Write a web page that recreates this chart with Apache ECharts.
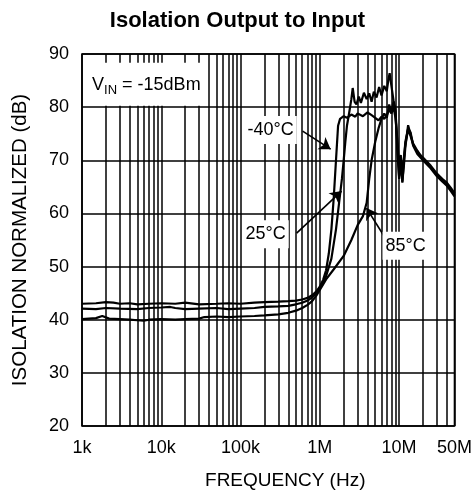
<!DOCTYPE html>
<html>
<head>
<meta charset="utf-8">
<script src="https://cdn.jsdelivr.net/npm/echarts@6/dist/echarts.min.js"></script>
<style>
html,body{margin:0;padding:0;background:#fff;}
#chart{width:475px;height:504px;}
</style>
</head>
<body>
<div id="chart"></div>
<script>
// ---- data ----
var xTickValues = [1e3, 1e4, 1e5, 1e6, 1e7, 5e7];
var xTickLabels = ['1k', '10k', '100k', '1M', '10M', '50M'];
var yTicks = [20, 30, 40, 50, 60, 70, 80, 90];

var freqM40 = [1e3,1.5e3,2e3,2.5e3,3e3,4e3,5e3,7e3,1e4,1.5e4,2e4,3e4,5e4,7e4,1e5,1.5e5,2e5,3e5,4e5,5e5,6e5,7e5,8e5,9e5,1e6,1.1e6,1.2e6,1.3e6,1.4e6,1.5e6,1.6e6,1.7e6,1.8e6,2e6,2.2e6,2.5e6,2.8e6,3e6,3.5e6,4e6,4.5e6,5e6,5.5e6,6e6,6.5e6,7e6,7.5e6,8e6,8.5e6,9e6,9.5e6,1e7,1.05e7,1.1e7,1.15e7,1.2e7,1.3e7,1.4e7,1.5e7,1.7e7,2e7,2.5e7,3e7,3.5e7,4e7,4.5e7,5e7];
var dbM40 = [43.0,43.1,43.3,43.2,43.0,43.1,42.9,43.0,43.1,43.0,43.2,42.9,43.0,43.1,43.0,43.2,43.3,43.4,43.5,43.6,43.8,44.1,44.6,45.3,46.2,47.5,49.3,52.5,57.0,63.0,70.0,76.5,77.8,78.3,78.0,78.6,78.2,78.8,78.3,79.0,78.5,78.0,77.5,78.2,77.8,78.5,79.5,78.8,80.0,78.0,74.0,68.5,71.0,67.0,70.5,73.0,75.8,74.5,73.0,71.5,70.5,69.0,67.5,66.5,65.8,64.8,63.8];

var freq25 = [1e3,1.5e3,2e3,3e3,5e3,7e3,1e4,1.3e4,1.5e4,2e4,3e4,5e4,7e4,1e5,1.5e5,2e5,3e5,4e5,5e5,6e5,7e5,8e5,9e5,1e6,1.2e6,1.4e6,1.6e6,1.75e6,1.9e6,2.0e6,2.1e6,2.2e6,2.35e6,2.5e6,2.6e6,2.75e6,2.9e6,3.1e6,3.3e6,3.6e6,3.9e6,4.2e6,4.5e6,4.8e6,5.2e6,5.6e6,6e6,6.5e6,7e6,7.3e6,7.6e6,8e6,8.5e6,9e6,9.5e6,1e7,1.05e7,1.1e7,1.15e7,1.2e7,1.3e7,1.4e7,1.5e7,1.7e7,2e7,2.5e7,3e7,3.5e7,4e7,4.5e7,5e7];
var db25 = [42.1,42.0,42.2,42.1,42.0,42.2,42.3,42.4,42.2,42.0,42.1,42.2,42.0,42.1,42.2,42.4,42.5,42.6,42.9,43.2,43.6,44.2,45.0,46.0,48.2,51.5,57.0,62.0,66.5,70.0,73.5,76.5,79.0,81.5,83.6,81.0,80.5,82.0,80.8,82.7,81.5,82.6,81.0,82.9,81.8,83.8,82.2,84.0,83.0,85.0,86.4,84.0,81.3,79.5,73.0,66.5,70.0,66.0,69.0,72.5,76.6,74.8,73.2,71.8,70.2,68.8,67.2,66.4,65.5,64.5,63.5];

var freq85 = [1e3,1.5e3,1.8e3,2.2e3,3e3,4e3,5e3,6e3,7e3,1e4,1.5e4,2e4,3e4,3.5e4,5e4,7e4,1e5,1.5e5,2e5,3e5,4e5,5e5,6e5,7e5,8e5,9e5,1e6,1.2e6,1.5e6,2e6,2.5e6,3e6,3.5e6,3.9e6,4.2e6,4.5e6,5e6,5.5e6,6e6,6.5e6,7e6,7.5e6,8e6,8.5e6,9e6,9.5e6,1e7,1.05e7,1.1e7,1.15e7,1.2e7,1.3e7,1.4e7,1.5e7,1.7e7,2e7,2.5e7,3e7,3.5e7,4e7,4.5e7,5e7];
var db85 = [40.1,40.3,40.7,40.2,40.1,40.0,39.9,39.8,40.0,40.1,40.0,40.1,40.2,40.5,40.6,40.5,40.6,40.7,40.8,41.0,41.3,41.7,42.2,42.8,43.5,44.5,45.6,47.6,49.5,52.0,55.0,57.8,59.5,62.0,66.5,70.0,73.5,76.0,77.8,78.8,78.0,80.5,79.0,81.0,79.0,72.0,67.0,69.5,65.8,70.0,73.5,76.0,75.2,72.8,71.2,70.0,68.5,67.0,66.0,65.2,64.2,63.2];

var curveLabels = ['-40°C', '25°C', '85°C'];
var curveLabelPos = [[2.4e5, 75.7], [2.07e5, 56.1], [1.21e7, 53.9]];
var arrowStart = [[6.07e5, 75.5], [5.1e5, 56.3], [6.94e6, 55.0]];
var arrowEnd = [[1.37e6, 72.1], [1.88e6, 64.2], [3.88e6, 61.0]];
var vinPos = [1.34e3, 84.7];

var gridX = [];
[1e3, 1e4, 1e5, 1e6, 1e7].forEach(function (d) {
  for (var n = 1; n <= 9; n++) { var v = n * d; if (v <= 5e7) gridX.push(v); }
});

function zip(f, d) { return f.map(function (v, i) { return [v, d[i]]; }); }

var FONT = '"Liberation Sans", Arial, sans-serif';
var chart = echarts.init(document.getElementById('chart'), null, {renderer: 'canvas'});

var curveStyle = {color: '#000', width: 2.2};
var option = {
  animation: false,
  backgroundColor: '#fff',
  title: {
    text: 'Isolation Output to Input',
    left: 'center', top: 5,
    textStyle: {fontFamily: FONT, fontSize: 22, fontWeight: 'bold', color: '#000'}
  },
  grid: {left: 82, right: 20, top: 54, bottom: 78, show: true, borderColor: '#000', borderWidth: 1.6, containLabel: false},
  xAxis: {
    type: 'log', logBase: 10, min: 1e3, max: 5e7,
    name: 'FREQUENCY (Hz)', nameLocation: 'middle', nameGap: 45,
    nameTextStyle: {fontFamily: FONT, fontSize: 19, color: '#000', padding: [0, 0, 0, 34]},
    axisLine: {show: false}, axisTick: {show: false}, splitLine: {show: false},
    axisLabel: {
      fontFamily: FONT, fontSize: 18, color: '#000', margin: 13, showMaxLabel: true, showMinLabel: true,
      formatter: function (v) {
        for (var i = 0; i < xTickValues.length; i++) {
          if (Math.abs(Math.log10(v) - Math.log10(xTickValues[i])) < 0.01) return xTickLabels[i];
        }
        return '';
      }
    }
  },
  yAxis: {
    type: 'value', min: 20, max: 90, interval: 10,
    name: 'ISOLATION NORMALIZED (dB)', nameLocation: 'middle', nameGap: 51, nameRotate: 90,
    nameTextStyle: {fontFamily: FONT, fontSize: 20.5, color: '#000'},
    axisLine: {show: false}, axisTick: {show: false},
    splitLine: {show: true, lineStyle: {color: '#000', width: 1.5}},
    axisLabel: {fontFamily: FONT, fontSize: 18, color: '#000', margin: 13}
  },
  series: [
    {
      type: 'line', data: [], silent: true, z: 1,
      markLine: {
        silent: true, symbol: ['none', 'none'], label: {show: false}, animation: false,
        lineStyle: {color: '#000', width: 1.5, type: 'solid'},
        data: gridX.map(function (v) { return {xAxis: v}; })
      }
    },
    {type: 'line', name: '-40°C', data: zip(freqM40, dbM40), showSymbol: false, symbol: 'none', lineStyle: curveStyle, itemStyle: {color: '#000'}, z: 5},
    {type: 'line', name: '25°C', data: zip(freq25, db25), showSymbol: false, symbol: 'none', lineStyle: curveStyle, itemStyle: {color: '#000'}, z: 5},
    {
      type: 'line', name: '85°C', data: zip(freq85, db85), showSymbol: false, symbol: 'none', lineStyle: curveStyle, itemStyle: {color: '#000'}, z: 5,
      markLine: {
        silent: true, symbol: ['none', 'arrow'], symbolSize: 11, label: {show: false}, animation: false,
        lineStyle: {color: '#000', width: 1.6, type: 'solid'},
        data: arrowStart.map(function (s, i) { return [{coord: s}, {coord: arrowEnd[i]}]; })
      }
    }
  ]
};
chart.setOption(option);

// annotation texts placed through the axes' own scales
var graphics = curveLabels.map(function (t, i) {
  var p = chart.convertToPixel({gridIndex: 0}, curveLabelPos[i]);
  return {
    type: 'text', x: p[0], y: p[1], z: 50, silent: true,
    style: {
      text: t, fill: '#000', font: '18px ' + FONT, align: 'center', verticalAlign: 'middle',
      backgroundColor: '#fff', padding: [5, 3, 5, 3]
    }
  };
});
var pv = chart.convertToPixel({gridIndex: 0}, vinPos);
graphics.push({
  type: 'text', x: pv[0] - 4, y: pv[1] + 2, z: 50, silent: true,
  style: {
    text: '{a|V}{s|IN}{a| = -15dBm}', fill: '#000', align: 'left', verticalAlign: 'middle',
    backgroundColor: '#fff', padding: [11, 4, 9, 4],
    rich: {
      a: {font: '18px ' + FONT, fill: '#000'},
      s: {font: '13px ' + FONT, fill: '#000', padding: [10, 0, 0, 0]}
    }
  }
});
chart.setOption({graphic: graphics});
</script>
</body>
</html>
